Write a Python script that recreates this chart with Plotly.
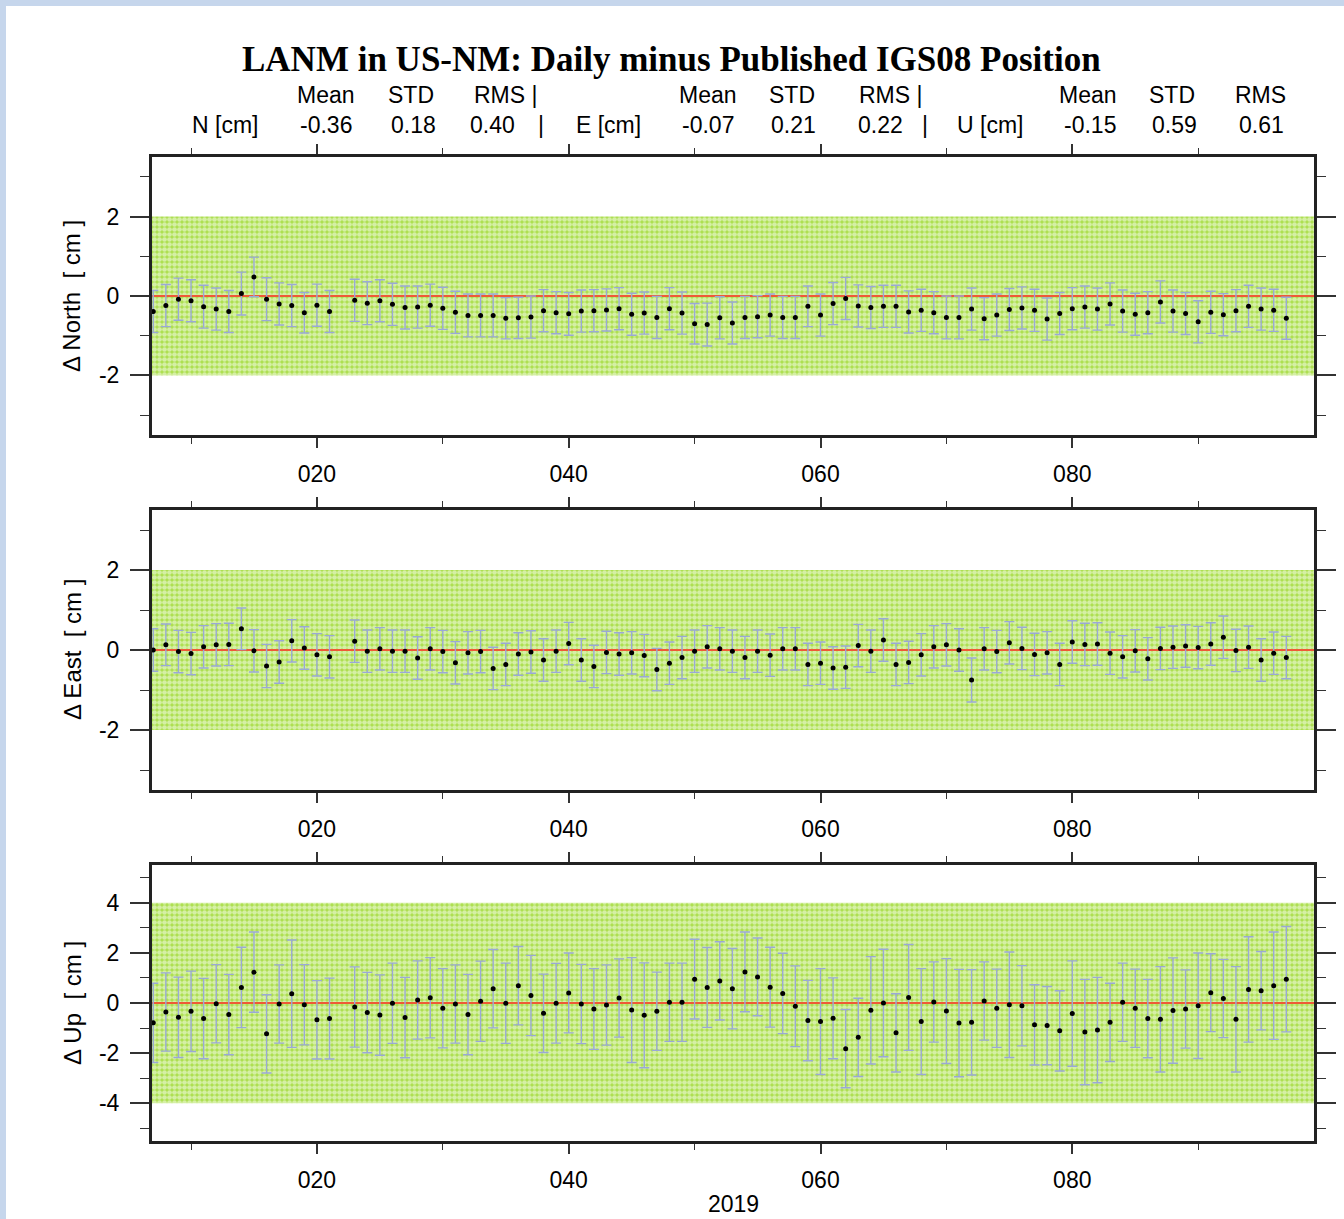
import plotly.graph_objects as go

W, H = 1344, 1219

# ---------------- data ----------------
days = list(range(7, 22)) + list(range(23, 98))

north = [-0.39, -0.24, -0.08, -0.12, -0.27, -0.33, -0.39, 0.06, 0.48, -0.08, -0.20, -0.24, -0.42, -0.23, -0.39,
         -0.11, -0.18, -0.12, -0.21, -0.29, -0.28, -0.23, -0.31, -0.41, -0.49, -0.49, -0.49, -0.56, -0.55, -0.53,
         -0.37, -0.42, -0.45, -0.38, -0.37, -0.35, -0.32, -0.46, -0.43, -0.54, -0.32, -0.43, -0.70, -0.72, -0.55,
         -0.68, -0.54, -0.52, -0.48, -0.54, -0.54, -0.26, -0.48, -0.19, -0.06, -0.25, -0.29, -0.26, -0.26, -0.40,
         -0.36, -0.42, -0.54, -0.54, -0.33, -0.57, -0.48, -0.34, -0.30, -0.36, -0.58, -0.44, -0.32, -0.28, -0.33,
         -0.20, -0.38, -0.46, -0.42, -0.15, -0.38, -0.44, -0.65, -0.41, -0.47, -0.37, -0.26, -0.33, -0.36, -0.56]
north_err = [0.53, 0.53, 0.53, 0.53, 0.54, 0.53, 0.53, 0.54, 0.50, 0.54, 0.53, 0.53, 0.51, 0.53, 0.53,
             0.53, 0.54, 0.53, 0.53, 0.54, 0.53, 0.53, 0.53, 0.53, 0.54, 0.54, 0.54, 0.52, 0.52, 0.53,
             0.53, 0.53, 0.54, 0.53, 0.53, 0.53, 0.53, 0.53, 0.53, 0.53, 0.53, 0.53, 0.51, 0.54, 0.53,
             0.53, 0.53, 0.53, 0.53, 0.53, 0.53, 0.51, 0.53, 0.53, 0.53, 0.53, 0.53, 0.53, 0.53, 0.53,
             0.53, 0.53, 0.54, 0.54, 0.53, 0.53, 0.53, 0.53, 0.53, 0.53, 0.53, 0.53, 0.53, 0.53, 0.53,
             0.53, 0.53, 0.53, 0.53, 0.53, 0.53, 0.53, 0.53, 0.53, 0.53, 0.53, 0.53, 0.53, 0.53, 0.53]

east = [0.00, 0.13, -0.04, -0.09, 0.08, 0.13, 0.14, 0.53, -0.02, -0.40, -0.30, 0.23, 0.05, -0.12, -0.17,
        0.22, -0.03, 0.03, -0.03, -0.03, -0.20, 0.03, -0.04, -0.32, -0.07, -0.04, -0.46, -0.36, -0.10, -0.05,
        -0.25, -0.03, 0.16, -0.25, -0.41, -0.06, -0.10, -0.07, -0.14, -0.49, -0.33, -0.19, -0.03, 0.08, 0.03,
        -0.03, -0.19, -0.03, -0.13, 0.03, 0.03, -0.36, -0.33, -0.45, -0.43, 0.11, -0.03, 0.25, -0.36, -0.31,
        -0.12, 0.08, 0.13, 0.00, -0.75, 0.03, -0.04, 0.18, 0.04, -0.11, -0.07, -0.36, 0.20, 0.14, 0.15,
        -0.08, -0.17, -0.02, -0.22, 0.04, 0.07, 0.10, 0.06, 0.15, 0.32, -0.01, 0.07, -0.25, -0.08, -0.19]
east_err = [0.53, 0.52, 0.53, 0.53, 0.53, 0.53, 0.53, 0.52, 0.53, 0.54, 0.53, 0.53, 0.53, 0.53, 0.53,
            0.53, 0.53, 0.53, 0.53, 0.53, 0.53, 0.53, 0.53, 0.53, 0.53, 0.53, 0.53, 0.53, 0.53, 0.53,
            0.53, 0.53, 0.53, 0.53, 0.53, 0.53, 0.53, 0.53, 0.53, 0.53, 0.53, 0.53, 0.53, 0.53, 0.53,
            0.53, 0.53, 0.53, 0.53, 0.53, 0.53, 0.53, 0.53, 0.53, 0.53, 0.53, 0.53, 0.53, 0.53, 0.53,
            0.53, 0.53, 0.53, 0.53, 0.55, 0.53, 0.53, 0.53, 0.53, 0.53, 0.53, 0.53, 0.53, 0.53, 0.53,
            0.53, 0.53, 0.53, 0.53, 0.53, 0.53, 0.53, 0.53, 0.53, 0.53, 0.53, 0.53, 0.53, 0.53, 0.53]

up = [-0.79, -0.36, -0.57, -0.33, -0.62, -0.03, -0.46, 0.62, 1.23, -1.23, -0.04, 0.37, -0.07, -0.67, -0.62,
      -0.16, -0.38, -0.48, -0.01, -0.58, 0.12, 0.21, -0.21, -0.04, -0.46, 0.07, 0.57, -0.01, 0.69, 0.30,
      -0.41, -0.01, 0.40, -0.04, -0.24, -0.08, 0.20, -0.28, -0.49, -0.33, 0.03, 0.03, 0.95, 0.62, 0.88,
      0.57, 1.24, 1.04, 0.63, 0.38, -0.13, -0.70, -0.74, -0.61, -1.82, -1.37, -0.29, 0.00, -1.19, 0.22,
      -0.74, 0.04, -0.32, -0.80, -0.77, 0.08, -0.21, -0.07, -0.11, -0.87, -0.90, -1.11, -0.42, -1.16, -1.08,
      -0.77, 0.03, -0.21, -0.62, -0.65, -0.30, -0.24, -0.11, 0.41, 0.18, -0.65, 0.54, 0.49, 0.69, 0.95]
up_err = [1.58, 1.56, 1.60, 1.60, 1.60, 1.56, 1.60, 1.60, 1.60, 1.56, 1.56, 2.14, 1.60, 1.56, 1.61,
          1.60, 1.60, 1.60, 1.60, 1.60, 1.56, 1.60, 1.58, 1.56, 1.60, 1.60, 1.56, 1.60, 1.56, 1.60,
          1.56, 1.59, 1.59, 1.58, 1.61, 1.60, 1.56, 2.09, 2.09, 1.56, 1.56, 1.56, 1.59, 1.59, 1.56,
          1.60, 1.59, 1.55, 1.59, 1.60, 1.61, 1.60, 2.11, 1.61, 1.56, 1.56, 2.14, 2.14, 1.56, 2.11,
          2.11, 1.60, 2.09, 2.14, 2.10, 1.56, 1.56, 2.10, 1.60, 1.60, 1.56, 1.60, 2.10, 2.10, 2.10,
          1.56, 1.56, 1.56, 1.56, 2.10, 2.10, 1.56, 2.10, 1.55, 1.56, 2.10, 2.10, 1.56, 2.14, 2.10]

x_tickvals = [20, 40, 60, 80]
x_ticktext = ["020", "040", "060", "080"]
x_minor = [10, 30, 50, 70, 90]
x_title = "2019"

ne_tickvals = [-2, 0, 2]
ne_ticktext = ["-2", "0", "2"]
ne_minor = [-3, -1, 1, 3]
u_tickvals = [-4, -2, 0, 2, 4]
u_ticktext = ["-4", "-2", "0", "2", "4"]
u_minor = [-5, -3, -1, 1, 3, 5]

ne_band = 2
u_band = 4

title = "LANM in US-NM: Daily minus Published IGS08 Position"
stat_head = ["Mean", "STD", "RMS |", "Mean", "STD", "RMS |", "Mean", "STD", "RMS"]
comp_labels = ["N [cm]", "E [cm]", "U [cm]"]
stats = ["-0.36", "0.18", "0.40", "-0.07", "0.21", "0.22", "-0.15", "0.59", "0.61"]
ylabels = ["\u0394 North  [ cm ]", "\u0394 East  [ cm ]", "\u0394 Up  [ cm ]"]

# ---------------- layout helpers ----------------
X_RANGE = [6.9, 99.2]
def px(x): return x / W
def py(y): return 1 - y / H

xdom = [px(152), px(1314)]
panels = [
    dict(top=157, bot=435, yr=[-3.5, 3.5], vals=north, err=north_err, band=ne_band,
         tv=ne_tickvals, tt=ne_ticktext, mn=ne_minor),
    dict(top=510, bot=790, yr=[-3.5, 3.5], vals=east, err=east_err, band=ne_band,
         tv=ne_tickvals, tt=ne_ticktext, mn=ne_minor),
    dict(top=865, bot=1141, yr=[-5.5, 5.5], vals=up, err=up_err, band=u_band,
         tv=u_tickvals, tt=u_ticktext, mn=u_minor),
]

SANS = "Liberation Sans, Arial, sans-serif"
TICKFONT = dict(family=SANS, size=23, color="black")
GREEN = "#aade4a"
ERRC = "#9aa9d6"
REDC = "#ee5a36"

fig = go.Figure()
layout = dict(width=W, height=H, margin=dict(l=0, r=0, t=0, b=0),
              paper_bgcolor="white", plot_bgcolor="white", showlegend=False)

for i, p in enumerate(panels):
    n = i + 1
    xa = "x" if n == 1 else f"x{n}"
    ya = "y" if n == 1 else f"y{n}"
    b = p["band"]
    # tolerance band
    fig.add_trace(go.Scatter(
        x=[X_RANGE[0], X_RANGE[1], X_RANGE[1], X_RANGE[0], X_RANGE[0]],
        y=[-b, -b, b, b, -b], mode="lines", line=dict(width=0),
        fill="toself", fillcolor=GREEN,
        fillpattern=dict(shape=".", bgcolor=GREEN, fgcolor="white", size=5, solidity=0.7),
        xaxis=xa, yaxis=ya, hoverinfo="skip"))
    # zero line
    fig.add_trace(go.Scatter(x=X_RANGE, y=[0, 0], mode="lines",
                             line=dict(color=REDC, width=2.2), xaxis=xa, yaxis=ya, hoverinfo="skip"))
    # daily points
    fig.add_trace(go.Scatter(
        x=days, y=p["vals"], mode="markers",
        marker=dict(color="black", size=5),
        error_y=dict(type="data", array=p["err"], visible=True, color=ERRC, thickness=1.4, width=5),
        xaxis=xa, yaxis=ya))

    xkey = "xaxis" if n == 1 else f"xaxis{n}"
    ykey = "yaxis" if n == 1 else f"yaxis{n}"
    layout[xkey] = dict(domain=xdom, anchor=ya, range=X_RANGE,
                        tickmode="array", tickvals=x_tickvals, ticktext=x_ticktext,
                        ticks="outside", ticklen=10, tickwidth=1.5, tickcolor="#333",
                        minor=dict(tickmode="array", tickvals=x_minor, ticks="outside", ticklen=6,
                                   tickwidth=1.2, tickcolor="#333"),
                        mirror="allticks", showline=True, linewidth=3, linecolor="#222",
                        showgrid=False, zeroline=False, tickfont=TICKFONT, ticklabelstandoff=6)
    layout[ykey] = dict(domain=[py(p["bot"]), py(p["top"])], anchor=xa, range=p["yr"],
                        tickmode="array", tickvals=p["tv"], ticktext=p["tt"],
                        ticks="outside", ticklen=19, tickwidth=1.5, tickcolor="#333",
                        minor=dict(tickmode="array", tickvals=p["mn"], ticks="outside", ticklen=9,
                                   tickwidth=1.2, tickcolor="#333"),
                        mirror="allticks", showline=True, linewidth=3, linecolor="#222",
                        showgrid=False, zeroline=False, tickfont=TICKFONT, ticklabelstandoff=6)

annotations = []
# title
annotations.append(dict(text="<b>" + title + "</b>", x=px(671), y=py(59), xref="paper", yref="paper",
                        showarrow=False, xanchor="center", yanchor="middle",
                        font=dict(family="Liberation Serif, Times New Roman, serif", size=35, color="black")))
# stats header
HF = dict(family=SANS, size=23, color="black")
head_x = [326, 411, 505, 708, 792, 890, 1088, 1172, 1260]
for t, xx in zip(stat_head, head_x):
    annotations.append(dict(text=t, x=px(xx), y=py(95), xref="paper", yref="paper", showarrow=False,
                            xanchor="center", yanchor="middle", font=HF))
comp_x = [225, 608, 990]
for t, xx in zip(comp_labels, comp_x):
    annotations.append(dict(text=t, x=px(xx), y=py(125), xref="paper", yref="paper", showarrow=False,
                            xanchor="center", yanchor="middle", font=HF))
stat_x = [326, 413, 493, 708, 793, 880, 1090, 1174, 1261]
for t, xx in zip(stats, stat_x):
    annotations.append(dict(text=t, x=px(xx), y=py(125), xref="paper", yref="paper", showarrow=False,
                            xanchor="center", yanchor="middle", font=HF))
for xx in [541, 925]:
    annotations.append(dict(text="|", x=px(xx), y=py(125), xref="paper", yref="paper", showarrow=False,
                            xanchor="center", yanchor="middle", font=HF))
# y labels
for p, t in zip(panels, ylabels):
    annotations.append(dict(text=t, x=px(72), y=py((p["top"] + p["bot"]) / 2), xref="paper", yref="paper",
                            showarrow=False, textangle=-90, xanchor="center", yanchor="middle",
                            font=dict(family=SANS, size=24, color="black")))
# x title
annotations.append(dict(text=x_title, x=px(733), y=py(1204), xref="paper", yref="paper", showarrow=False,
                        xanchor="center", yanchor="middle", font=dict(family=SANS, size=23, color="black")))
layout["annotations"] = annotations

# page background strips
layout["shapes"] = [
    dict(type="rect", xref="paper", yref="paper", x0=0, x1=px(6), y0=0, y1=1,
         fillcolor="#c6d6ec", line=dict(width=0), layer="below"),
    dict(type="rect", xref="paper", yref="paper", x0=0, x1=1, y0=py(6), y1=1,
         fillcolor="#c6d6ec", line=dict(width=0), layer="below"),
]

fig.update_layout(**layout)
fig.write_html("out.html", config={"displayModeBar": False},
               post_script="document.body.style.margin='0';document.body.style.overflow='hidden';")
